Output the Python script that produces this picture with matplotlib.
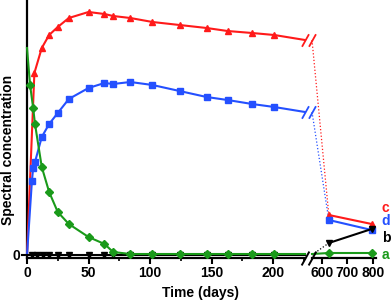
import numpy as np
import matplotlib
matplotlib.use("Agg")
import matplotlib.pyplot as plt

plt.rcParams["font.family"] = ["Liberation Sans", "DejaVu Sans"]
plt.rcParams["font.weight"] = "bold"

# ---------- data (arbitrary units) ----------
t_red = [0, 6, 12, 18, 25, 34, 50, 63, 70, 84, 102, 124, 146, 163, 183, 201, 226]
red = [0, 182, 207, 220, 228, 237, 243, 241, 239, 237, 233, 230, 227, 224, 222, 220, 215]

t_blue = [0, 4, 5, 6.5, 12, 18, 25, 34, 50, 63, 70, 84, 102, 124, 146, 163, 183, 201, 226]
blue = [0, 74, 87, 93, 118, 131, 142, 156, 167, 172, 171, 173, 170, 164, 158, 155, 151, 148, 143]

t_green = [0, 2.5, 5, 6.5, 12, 18, 25, 34, 50, 63, 70, 84, 102, 124, 146, 163, 183, 201, 226]
green = [207, 170, 147, 131, 88, 63, 43, 31, 18, 11, 3, 1, 1, 1, 1, 1, 1, 1, 1]

t_black = [0, 4, 8, 13, 18, 25, 34, 50, 63, 70, 84, 102, 124, 146, 163, 183, 201, 226]
black = [0] * len(t_black)

# late measurements (after the axis break)
t_late = [627, 795]
red_late = [40, 31]
blue_late = [35, 25]
black_late = [12, 26]
green_late = [2, 2]

X_LEFT = (0, 226)
X_RIGHT = (561, 810)
Y_LIM = (-3, 255)

C_RED, C_BLUE, C_GREEN, C_BLACK = "#ff1a1a", "#2450ff", "#1a9a1a", "#000000"

series = [
    (t_red, red, red_late, C_RED, "^", 4.6, "c"),
    (t_blue, blue, blue_late, C_BLUE, "s", 4.2, "d"),
    (t_black, black, black_late, C_BLACK, "v", 4.6, "b"),
    (t_green, green, green_late, C_GREEN, "D", 3.8, "a"),
]

fig = plt.figure(figsize=(3.92, 3.05), dpi=100)
H = 258 / 305
ax1 = fig.add_axes([27 / 392, 1 - H, 278 / 392, H])
ax2 = fig.add_axes([312 / 392, 1 - H, 63.5 / 392, H], sharey=ax1)

for t, v, vl, c, m, ms, lab in series:
    ax1.plot(t, v, color=c, lw=1.5, clip_on=False, zorder=3)
    ax1.plot(t[1:-1], v[1:-1], ls="none", marker=m, ms=ms, color=c,
             clip_on=False, zorder=4)
    # bridge over the break: from the break value to the first late point
    style = "-" if c == C_GREEN else ":"
    ax2.plot([X_RIGHT[0], t_late[0]], [v[-1], vl[0]], color=c,
             lw=1.5 if style == "-" else 0.9, ls=style, clip_on=False, zorder=2)
    ax2.plot(t_late, vl, color=c, lw=1.5, marker=m, ms=ms, clip_on=False, zorder=4)
    # break slashes on the two visible series
    if c in (C_RED, C_BLUE):
        slash = [(-1, -1.8), (1, 1.8)]
        ax1.plot([X_LEFT[1]], [v[-1]], marker=slash, ms=9, mew=1.3, color=c,
                 clip_on=False, zorder=5)
        ax2.plot([X_RIGHT[0]], [v[-1]], marker=slash, ms=9, mew=1.3, color=c,
                 clip_on=False, zorder=5)

# series letters at the right
label_y = {"c": 47, "d": 34, "b": 17, "a": 0}
for t, v, vl, c, m, ms, lab in series:
    ax2.text(1.10, label_y[lab], lab, color=c, fontsize=10, fontweight="bold",
             transform=ax2.get_yaxis_transform(), ha="left", va="center")

# axes styling
for ax in (ax1, ax2):
    ax.set_ylim(*Y_LIM)
    ax.spines["top"].set_visible(False)
    ax.spines["right"].set_visible(False)
    ax.spines["bottom"].set_linewidth(1.6)
    ax.tick_params(axis="x", which="major", length=4, width=1.5, labelsize=10,
                   pad=2)
    ax.tick_params(axis="x", which="minor", length=2.5, width=1.2)

ax1.set_xlim(*X_LEFT)
ax1.set_xticks([0, 50, 100, 150, 200])
ax1.set_xticks([25, 75, 125, 175, 225], minor=True)
ax1.spines["left"].set_linewidth(1.6)
ax1.set_yticks([0])
ax1.set_yticklabels(["0"], fontsize=10, fontweight="bold")
ax1.tick_params(axis="y", length=4, width=1.5, pad=1)
ax1.set_xticklabels(["0", "50", "100", "150", "200"], fontweight="bold")

ax2.set_xlim(*X_RIGHT)
ax2.set_xticks([600, 700, 800])
ax2.set_xticklabels(["600", "700", "800"], fontweight="bold")
ax2.spines["left"].set_visible(False)
ax2.tick_params(axis="y", left=False, labelleft=False)

# x-axis break slashes
slash = [(-1, -1.8), (1, 1.8)]
ax1.plot([1], [0], transform=ax1.transAxes, marker=slash, ms=10, mew=1.4,
         color="k", clip_on=False)
ax2.plot([0], [0], transform=ax2.transAxes, marker=slash, ms=10, mew=1.4,
         color="k", clip_on=False)

ax1.set_ylabel("Spectral concentration", fontsize=10, fontweight="bold")
ax1.yaxis.set_label_coords(-0.042, 0.42)
fig.text(200 / 392, 1 - 293 / 305, "Time (days)", fontsize=10,
         fontweight="bold", ha="center", va="center")

fig.savefig("out.png", dpi=100)
